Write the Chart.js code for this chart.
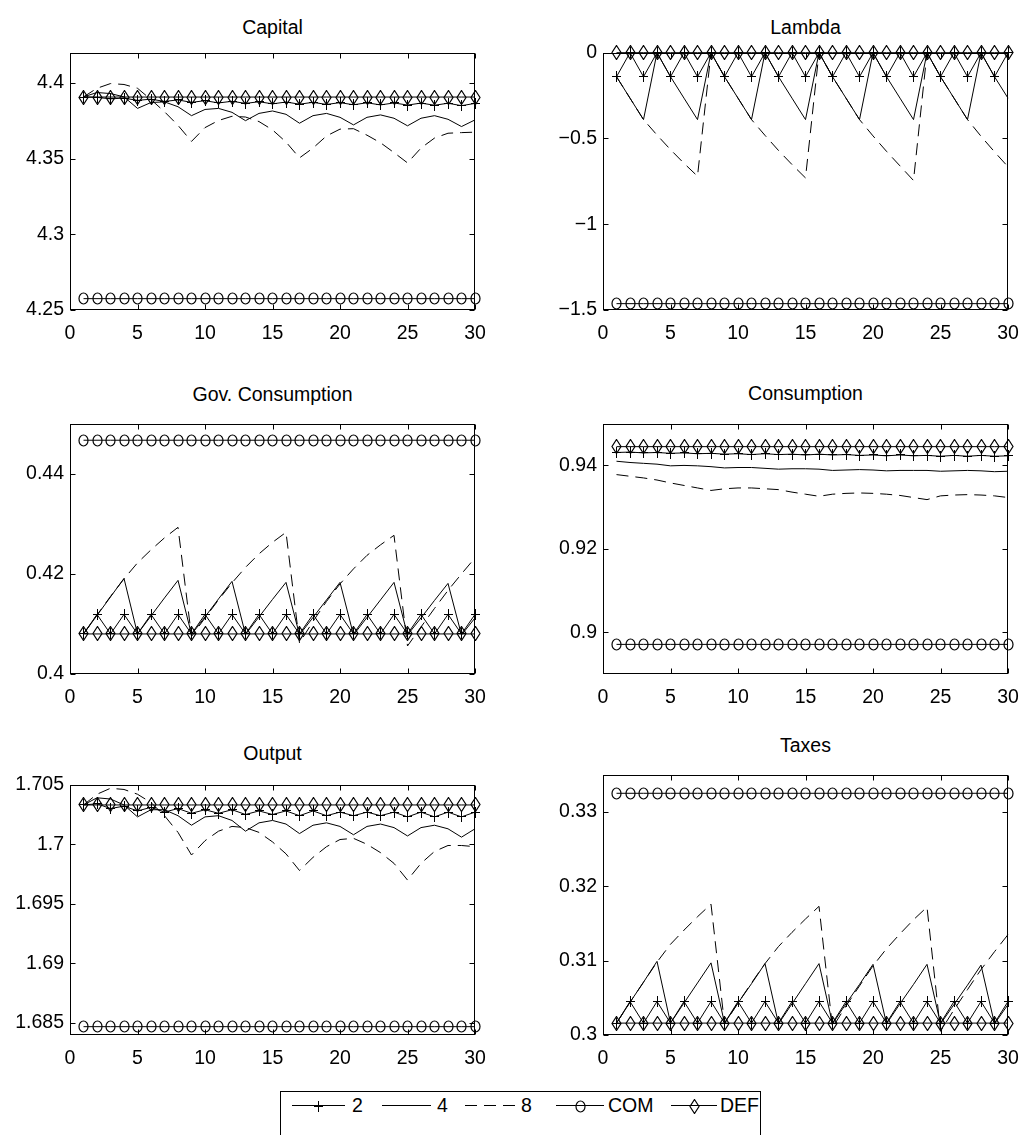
<!DOCTYPE html>
<html>
<head>
<meta charset="utf-8">
<script src="https://cdn.jsdelivr.net/npm/chart.js@4.4.1/dist/chart.umd.min.js"></script>
<style>
  html, body { margin:0; padding:0; background:#fff; overflow:hidden; }
  #fig { position:relative; width:1029px; height:1135px; overflow:hidden; background:#fff;
         font-family:"Liberation Sans",Arial,Helvetica,sans-serif; color:#000; }
  .title { position:absolute; font-size:19.5px; line-height:28px; height:28px; white-space:nowrap; transform:translateX(-50%); }
  canvas.panel { position:absolute; }
  #legendBox { position:absolute; left:280px; top:1091px; width:481px; height:80px; border:1px solid #000; box-sizing:border-box; }
  .ltext { position:absolute; font-size:19.5px; line-height:28px; white-space:nowrap; }
  canvas.lsample { position:absolute; }
</style>
</head>
<body>
<div id="fig"><div id="legendBox"></div></div>
<script>
const FONT = '"Liberation Sans",Arial,Helvetica,sans-serif';
const FONT_SIZE = 19.5;

const periods = [1,2,3,4,5,6,7,8,9,10,11,12,13,14,15,16,17,18,19,20,21,22,23,24,25,26,27,28,29,30];
const xTicks = [0,5,10,15,20,25,30];

// Capital
const capitalTicks = [4.25, 4.3, 4.35, 4.4];
const capital2 = [4.3907,4.3905,4.3895,4.3900,4.3885,4.3893,4.3878,4.3888,4.3872,4.3883,4.3868,4.3879,4.3865,4.3876,4.3862,4.3874,4.3860,4.3872,4.3858,4.3870,4.3856,4.3869,4.3855,4.3868,4.3854,4.3867,4.3853,4.3866,4.3850,4.3865];
const capital4 = [4.3908,4.3937,4.3930,4.3908,4.3832,4.3871,4.3875,4.3843,4.3784,4.3825,4.3832,4.3806,4.3751,4.3799,4.3815,4.3793,4.3734,4.3784,4.3799,4.3773,4.3723,4.3773,4.3789,4.3767,4.3717,4.3767,4.3784,4.3760,4.3712,4.3756];
const capital8 = [4.3908,4.3965,4.3996,4.3990,4.3965,4.3890,4.3810,4.3720,4.3614,4.3705,4.3752,4.3780,4.3775,4.3745,4.3690,4.3610,4.3505,4.3570,4.3650,4.3695,4.3698,4.3655,4.3605,4.3540,4.3472,4.3570,4.3636,4.3668,4.3672,4.3675];
const capitalCOM = [4.2575,4.2575,4.2575,4.2575,4.2575,4.2575,4.2575,4.2575,4.2575,4.2575,4.2575,4.2575,4.2575,4.2575,4.2575,4.2575,4.2575,4.2575,4.2575,4.2575,4.2575,4.2575,4.2575,4.2575,4.2575,4.2575,4.2575,4.2575,4.2575,4.2575];
const capitalDEF = [4.3907,4.3907,4.3907,4.3907,4.3907,4.3907,4.3907,4.3907,4.3907,4.3907,4.3907,4.3907,4.3907,4.3907,4.3907,4.3907,4.3907,4.3907,4.3907,4.3907,4.3907,4.3907,4.3907,4.3907,4.3907,4.3907,4.3907,4.3907,4.3907,4.3907];

// Lambda
const lambdaTicks = [-1.5, -1, -0.5, 0];
const lambda2 = [-0.14,0,-0.14,0,-0.14,0,-0.14,0,-0.14,0,-0.14,0,-0.14,0,-0.14,0,-0.14,0,-0.14,0,-0.14,0,-0.14,0,-0.14,0,-0.14,0,-0.14,0];
const lambda4 = [-0.14,-0.265,-0.39,0,-0.14,-0.265,-0.39,0,-0.14,-0.265,-0.39,0,-0.14,-0.265,-0.39,0,-0.14,-0.265,-0.39,0,-0.14,-0.265,-0.39,0,-0.14,-0.265,-0.39,0,-0.14,-0.265];
const lambda8 = [-0.14,-0.265,-0.39,-0.48,-0.565,-0.645,-0.72,0,-0.14,-0.265,-0.39,-0.482,-0.57,-0.652,-0.73,0,-0.14,-0.265,-0.39,-0.485,-0.575,-0.66,-0.745,0,-0.14,-0.265,-0.39,-0.487,-0.578,-0.665];
const lambdaCOM = [-1.463,-1.463,-1.463,-1.463,-1.463,-1.463,-1.463,-1.463,-1.463,-1.463,-1.463,-1.463,-1.463,-1.463,-1.463,-1.463,-1.463,-1.463,-1.463,-1.463,-1.463,-1.463,-1.463,-1.463,-1.463,-1.463,-1.463,-1.463,-1.463,-1.463];
const lambdaDEF = [0,0,0,0,0,0,0,0,0,0,0,0,0,0,0,0,0,0,0,0,0,0,0,0,0,0,0,0,0,0];

// Gov. Consumption
const govTicks = [0.4, 0.42, 0.44];
const gov2 = [0.408,0.4119,0.408,0.4119,0.408,0.4119,0.408,0.4119,0.408,0.4119,0.408,0.4119,0.408,0.4119,0.408,0.4119,0.408,0.4119,0.408,0.4119,0.408,0.4119,0.408,0.4119,0.408,0.4119,0.408,0.4119,0.408,0.4119];
const gov4 = [0.4080,0.4117,0.4154,0.4191,0.4080,0.4116,0.4152,0.4187,0.4079,0.4114,0.4150,0.4185,0.4079,0.4114,0.4149,0.4183,0.4078,0.4113,0.4148,0.4183,0.4078,0.4113,0.4148,0.4183,0.4078,0.4112,0.4147,0.4181,0.4078,0.4112];
const gov8 = [0.4080,0.4118,0.4155,0.4190,0.4222,0.4248,0.4272,0.4293,0.4075,0.4112,0.4148,0.4182,0.4213,0.4240,0.4263,0.4283,0.4062,0.4105,0.4145,0.4180,0.4210,0.4237,0.4258,0.4277,0.4056,0.4094,0.4131,0.4167,0.4200,0.4232];
const govCOM = [0.4467,0.4467,0.4467,0.4467,0.4467,0.4467,0.4467,0.4467,0.4467,0.4467,0.4467,0.4467,0.4467,0.4467,0.4467,0.4467,0.4467,0.4467,0.4467,0.4467,0.4467,0.4467,0.4467,0.4467,0.4467,0.4467,0.4467,0.4467,0.4467,0.4467];
const govDEF = [0.408,0.408,0.408,0.408,0.408,0.408,0.408,0.408,0.408,0.408,0.408,0.408,0.408,0.408,0.408,0.408,0.408,0.408,0.408,0.408,0.408,0.408,0.408,0.408,0.408,0.408,0.408,0.408,0.408,0.408];

// Consumption
const consTicks = [0.9, 0.92, 0.94];
const cons2 = [0.9431,0.9432,0.9430,0.9431,0.9429,0.9430,0.9428,0.9429,0.9427,0.9428,0.9426,0.9428,0.9426,0.9427,0.9425,0.9427,0.9425,0.9426,0.9424,0.9425,0.9423,0.9425,0.9423,0.9424,0.9422,0.9424,0.9422,0.9424,0.9422,0.9423];
const cons4 = [0.9410,0.9407,0.9405,0.9403,0.9399,0.9400,0.9399,0.9397,0.9394,0.9395,0.9395,0.9393,0.9391,0.9392,0.9392,0.9391,0.9388,0.9389,0.9390,0.9389,0.9387,0.9388,0.9388,0.9388,0.9386,0.9387,0.9388,0.9387,0.9385,0.9386];
const cons8 = [0.9378,0.9374,0.9370,0.9365,0.9358,0.9352,0.9346,0.9340,0.9344,0.9346,0.9346,0.9344,0.9342,0.9336,0.9331,0.9326,0.9331,0.9333,0.9334,0.9333,0.9331,0.9328,0.9323,0.9318,0.9327,0.9329,0.9330,0.9329,0.9327,0.9323];
const consCOM = [0.8971,0.8971,0.8971,0.8971,0.8971,0.8971,0.8971,0.8971,0.8971,0.8971,0.8971,0.8971,0.8971,0.8971,0.8971,0.8971,0.8971,0.8971,0.8971,0.8971,0.8971,0.8971,0.8971,0.8971,0.8971,0.8971,0.8971,0.8971,0.8971,0.8971];
const consDEF = [0.9445,0.9445,0.9445,0.9445,0.9445,0.9445,0.9445,0.9445,0.9445,0.9445,0.9445,0.9445,0.9445,0.9445,0.9445,0.9445,0.9445,0.9445,0.9445,0.9445,0.9445,0.9445,0.9445,0.9445,0.9445,0.9445,0.9445,0.9445,0.9445,0.9445];

// Output
const outTicks = [1.685, 1.69, 1.695, 1.7, 1.705];
const out2 = [1.7033,1.7034,1.7030,1.7032,1.7028,1.7031,1.7027,1.7030,1.7026,1.7029,1.7026,1.7029,1.7025,1.7028,1.7025,1.7028,1.7024,1.7028,1.7024,1.7027,1.7024,1.7027,1.7024,1.7027,1.7023,1.7027,1.7023,1.7027,1.7023,1.7027];
const out4 = [1.7033,1.7039,1.7038,1.7033,1.7023,1.7029,1.7029,1.7024,1.7016,1.7023,1.7024,1.7020,1.7011,1.7018,1.7020,1.7017,1.7009,1.7016,1.7018,1.7015,1.7008,1.7015,1.7017,1.7014,1.7007,1.7014,1.7016,1.7013,1.7006,1.7013];
const out8 = [1.7033,1.7042,1.7047,1.7046,1.7042,1.7035,1.7024,1.7010,1.6991,1.7003,1.7011,1.7015,1.7014,1.7010,1.7002,1.6992,1.6978,1.6989,1.6998,1.7004,1.7005,1.7000,1.6993,1.6984,1.6970,1.6984,1.6994,1.6999,1.6999,1.6998];
const outCOM = [1.6847,1.6847,1.6847,1.6847,1.6847,1.6847,1.6847,1.6847,1.6847,1.6847,1.6847,1.6847,1.6847,1.6847,1.6847,1.6847,1.6847,1.6847,1.6847,1.6847,1.6847,1.6847,1.6847,1.6847,1.6847,1.6847,1.6847,1.6847,1.6847,1.6847];
const outDEF = [1.7033,1.7033,1.7033,1.7033,1.7033,1.7033,1.7033,1.7033,1.7033,1.7033,1.7033,1.7033,1.7033,1.7033,1.7033,1.7033,1.7033,1.7033,1.7033,1.7033,1.7033,1.7033,1.7033,1.7033,1.7033,1.7033,1.7033,1.7033,1.7033,1.7033];

// Taxes
const taxTicks = [0.3, 0.31, 0.32, 0.33];
const tax2 = [0.3016,0.3045,0.3016,0.3045,0.3016,0.3045,0.3016,0.3045,0.3016,0.3045,0.3016,0.3045,0.3016,0.3045,0.3016,0.3045,0.3016,0.3045,0.3016,0.3045,0.3016,0.3045,0.3016,0.3045,0.3016,0.3045,0.3016,0.3045,0.3016,0.3045];
const tax4 = [0.3016,0.3044,0.3071,0.3099,0.3016,0.3043,0.3070,0.3097,0.3016,0.3043,0.3069,0.3096,0.3015,0.3042,0.3069,0.3096,0.3015,0.3042,0.3068,0.3095,0.3015,0.3042,0.3068,0.3095,0.3015,0.3041,0.3067,0.3094,0.3015,0.3041];
const tax8 = [0.3016,0.3044,0.3071,0.3098,0.3122,0.3141,0.3159,0.3176,0.3015,0.3043,0.3070,0.3096,0.3119,0.3138,0.3156,0.3173,0.3010,0.3039,0.3066,0.3093,0.3116,0.3136,0.3155,0.3172,0.3005,0.3034,0.3061,0.3088,0.3112,0.3135];
const taxCOM = [0.3325,0.3325,0.3325,0.3325,0.3325,0.3325,0.3325,0.3325,0.3325,0.3325,0.3325,0.3325,0.3325,0.3325,0.3325,0.3325,0.3325,0.3325,0.3325,0.3325,0.3325,0.3325,0.3325,0.3325,0.3325,0.3325,0.3325,0.3325,0.3325,0.3325];
const taxDEF = [0.3016,0.3016,0.3016,0.3016,0.3016,0.3016,0.3016,0.3016,0.3016,0.3016,0.3016,0.3016,0.3016,0.3016,0.3016,0.3016,0.3016,0.3016,0.3016,0.3016,0.3016,0.3016,0.3016,0.3016,0.3016,0.3016,0.3016,0.3016,0.3016,0.3016];

const seriesNames = ['2', '4', '8', 'COM', 'DEF'];

// axes rectangles in page pixels: [left, top, right, bottom]; base = title baseline
const panels = [
  {title:'Capital', box:[70,50,475,310], base:34, min:4.25, max:4.42, ticks:capitalTicks, s:[capital2,capital4,capital8,capitalCOM,capitalDEF]},
  {title:'Lambda', box:[603,50,1008,310], base:34, min:-1.5, max:0, ticks:lambdaTicks, s:[lambda2,lambda4,lambda8,lambdaCOM,lambdaDEF]},
  {title:'Gov. Consumption', box:[70,421,475,674], base:401, min:0.4, max:0.45, ticks:govTicks, s:[gov2,gov4,gov8,govCOM,govDEF]},
  {title:'Consumption', box:[603,421,1008,674], base:400, min:0.89, max:0.95, ticks:consTicks, s:[cons2,cons4,cons8,consCOM,consDEF]},
  {title:'Output', box:[70,782,475,1035], base:760, min:1.684, max:1.705, ticks:outTicks, s:[out2,out4,out8,outCOM,outDEF]},
  {title:'Taxes', box:[603,772,1008,1035], base:752, min:0.3, max:0.335, ticks:taxTicks, s:[tax2,tax4,tax8,taxCOM,taxDEF]},
];

const AX_W = 70, AX_H = 45, PAD_T = 15, PAD_R = 25;

function marker(kind){
  const c = document.createElement('canvas');
  const g = c.getContext('2d');
  g.strokeStyle = '#000'; g.lineWidth = 1;
  if(kind === 'plus'){
    c.width = 9; c.height = 11;
    g.strokeStyle = '#000'; g.lineWidth = 1;
    g.beginPath(); g.moveTo(4.5,0); g.lineTo(4.5,11); g.moveTo(0,5.5); g.lineTo(9,5.5); g.stroke();
  } else if(kind === 'circle'){
    c.width = 11; c.height = 13;
    g.strokeStyle = '#000'; g.lineWidth = 1.2;
    g.beginPath(); g.ellipse(5.5,6.5,4.5,5.5,0,0,Math.PI*2); g.stroke();
  } else {
    c.width = 11; c.height = 15;
    g.strokeStyle = '#000'; g.lineWidth = 1.2;
    g.beginPath(); g.moveTo(5.5,0.5); g.lineTo(10,7.5); g.lineTo(5.5,14.5); g.lineTo(1,7.5); g.closePath(); g.stroke();
  }
  return c;
}
const plusImg = marker('plus'), circleImg = marker('circle'), diamondImg = marker('diamond');

function fmt(v){
  return String(parseFloat(Number(v).toFixed(4))).replace('-', '\u2212');
}

// axes box with inward tick marks on all four sides
const framePlugin = {
  id:'frame',
  beforeDatasetsDraw(chart){
    chart.ctx.imageSmoothingEnabled = false;
  },
  afterDraw(chart){
    const {ctx, chartArea:a, scales:{x, y}} = chart;
    const len = 5;
    ctx.save();
    ctx.strokeStyle = '#000';
    ctx.lineWidth = 1;
    const L = Math.round(a.left)+0.5, R = Math.round(a.right)-0.5, T = Math.round(a.top)+0.5, B = Math.round(a.bottom)-0.5;
    ctx.strokeRect(L, T, R-L, B-T);
    ctx.beginPath();
    x.ticks.forEach(t => {
      const px = Math.round(x.getPixelForValue(t.value)) + 0.5;
      ctx.moveTo(px, B); ctx.lineTo(px, B-len);
      ctx.moveTo(px, T); ctx.lineTo(px, T+len);
    });
    y.ticks.forEach(t => {
      const py = Math.round(y.getPixelForValue(t.value)) + 0.5;
      ctx.moveTo(L, py); ctx.lineTo(L+len, py);
      ctx.moveTo(R, py); ctx.lineTo(R-len, py);
    });
    ctx.stroke();
    ctx.restore();
  }
};

const fig = document.getElementById('fig');

function buildDatasets(p){
  const pts = vals => periods.map((x, i) => ({x, y: vals[i]}));
  const base = {borderColor:'#000', backgroundColor:'#000', borderWidth:1, fill:false, tension:0, clip:false};
  return [
    Object.assign({}, base, {label:seriesNames[0], data:pts(p.s[0]), pointStyle:plusImg, pointRadius:5}),
    Object.assign({}, base, {label:seriesNames[1], data:pts(p.s[1]), pointRadius:0}),
    Object.assign({}, base, {label:seriesNames[2], data:pts(p.s[2]), pointRadius:0, borderDash:[12,7]}),
    Object.assign({}, base, {label:seriesNames[3], data:pts(p.s[3]), pointStyle:circleImg, pointRadius:5}),
    Object.assign({}, base, {label:seriesNames[4], data:pts(p.s[4]), pointStyle:diamondImg, pointRadius:5}),
  ];
}

panels.forEach(p => {
  const [l, t, r, b] = p.box;
  const title = document.createElement('div');
  title.className = 'title';
  title.textContent = p.title;
  title.style.left = ((l + r) / 2) + 'px';
  title.style.top = (p.base - 21) + 'px';
  fig.appendChild(title);

  const cv = document.createElement('canvas');
  cv.className = 'panel';
  cv.width = (r - l) + AX_W + PAD_R;
  cv.height = (b - t) + PAD_T + AX_H;
  cv.style.left = (l - AX_W) + 'px';
  cv.style.top = (t - PAD_T) + 'px';
  fig.appendChild(cv);

  new Chart(cv, {
    type:'line',
    data:{datasets:buildDatasets(p)},
    options:{
      responsive:false,
      animation:false,
      events:[],
      layout:{padding:{left:0, top:PAD_T, right:PAD_R, bottom:0}},
      plugins:{legend:{display:false}, tooltip:{enabled:false}, title:{display:false}},
      scales:{
        x:{
          type:'linear', min:0, max:30,
          grid:{display:false, drawTicks:false},
          border:{display:false},
          afterBuildTicks: s => { s.ticks = xTicks.map(v => ({value:v})); },
          afterFit: s => { s.height = AX_H; },
          ticks:{padding:12, color:'#000', autoSkip:false, maxRotation:0, font:{family:FONT, size:FONT_SIZE}, callback:v => fmt(v)}
        },
        y:{
          type:'linear', min:p.min, max:p.max,
          grid:{display:false, drawTicks:false},
          border:{display:false},
          afterBuildTicks: s => { s.ticks = p.ticks.map(v => ({value:v})); },
          afterFit: s => { s.width = AX_W; },
          ticks:{padding:6, color:'#000', autoSkip:false, font:{family:FONT, size:FONT_SIZE}, callback:v => fmt(v)}
        }
      }
    },
    plugins:[framePlugin]
  });
});

// shared legend under the panels
const LEG_Y = 1105;
const legendItems = [
  {name:seriesNames[0], x0:292, x1:345, tx:352, dash:null, mk:plusImg},
  {name:seriesNames[1], x0:382, x1:431, tx:437, dash:null, mk:null},
  {name:seriesNames[2], x0:465, x1:515, tx:521, dash:[12,7], mk:null},
  {name:seriesNames[3], x0:556, x1:604, tx:608, dash:null, mk:circleImg},
  {name:seriesNames[4], x0:671, x1:717, tx:720, dash:null, mk:diamondImg},
];
legendItems.forEach(it => {
  const c = document.createElement('canvas');
  c.className = 'lsample';
  c.width = it.x1 - it.x0; c.height = 20;
  c.style.left = it.x0 + 'px';
  c.style.top = (LEG_Y - 10) + 'px';
  const g = c.getContext('2d');
  g.strokeStyle = '#000'; g.lineWidth = 1;
  if(it.dash) g.setLineDash(it.dash);
  g.beginPath(); g.moveTo(0, 10.5); g.lineTo(c.width, 10.5); g.stroke();
  if(it.mk) g.drawImage(it.mk, Math.round(c.width/2 - it.mk.width/2), Math.round(11 - it.mk.height/2));
  fig.appendChild(c);
  const s = document.createElement('div');
  s.className = 'ltext';
  s.textContent = it.name;
  s.style.left = it.tx + 'px';
  s.style.top = (LEG_Y - 14) + 'px';
  fig.appendChild(s);
});
</script>
</body>
</html>
